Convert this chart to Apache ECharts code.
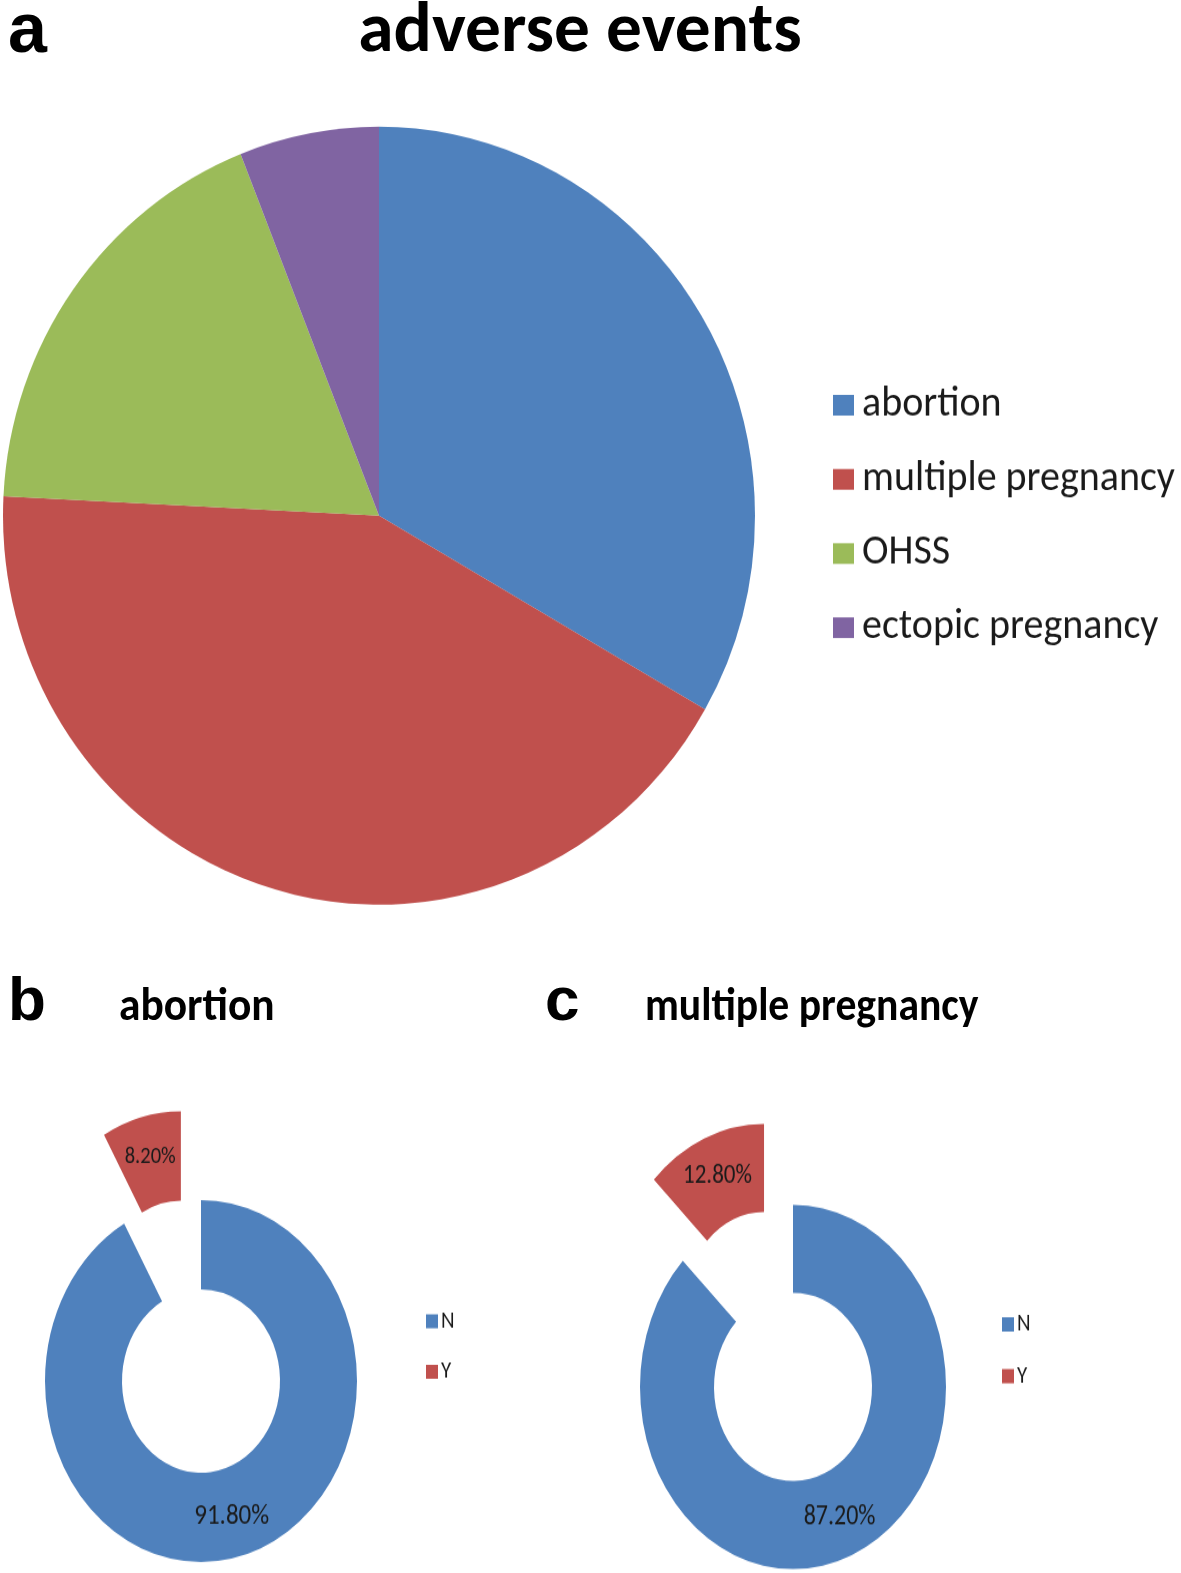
<!DOCTYPE html>
<html>
<head>
<meta charset="utf-8">
<script src="https://cdn.jsdelivr.net/npm/echarts@6/dist/echarts.min.js"></script>
<style>
html,body{margin:0;padding:0;background:#fff;}
#page{position:relative;width:1181px;height:1573px;overflow:hidden;background:#fff;}
.box{position:absolute;}
</style>
</head>
<body>
<div id="page">
  <div id="titles" class="box" style="left:0;top:0;width:1181px;height:1573px;"></div>
  <div id="main" class="box" style="left:0;top:100px;width:1181px;height:840px;transform:scaleY(1.0345);transform-origin:0 0;"></div>
  <div id="donutB" class="box" style="left:0;top:1040px;width:570px;height:460px;transform:scaleY(1.16);transform-origin:0 0;"></div>
  <div id="donutC" class="box" style="left:580px;top:1040px;width:601px;height:460px;transform:scaleY(1.19);transform-origin:0 0;"></div>
</div>
<script>
// ---- data ----
var eventCategories = ['abortion', 'multiple pregnancy', 'OHSS', 'ectopic pregnancy'];
var eventValues = [33.3, 42.5, 18.2, 6.0];
var ynCategories = ['N', 'Y'];
var abortionValues = [91.8, 8.2];
var multipleValues = [87.2, 12.8];
var panelTitles = ['adverse events', 'abortion', 'multiple pregnancy'];
var panelLetters = ['a', 'b', 'c'];

var colors = ['#4F81BD', '#C0504D', '#9BBB59', '#8064A2'];
var calibri = 'Carlito, Lato, sans-serif';
var arialB = '"Liberation Sans", Arial, sans-serif';

// ---- titles ----
var titles = echarts.init(document.getElementById('titles'), null, {renderer: 'canvas', width: 1181, height: 1573});
titles.setOption({
  animation: false,
  graphic: [
    {type: 'text', x: 8, y: 33, style: {text: panelLetters[0], font: 'bold 70px ' + arialB, fill: '#000', verticalAlign: 'middle'}},
    {type: 'text', x: 580, y: 33, scaleX: 1.02, style: {text: panelTitles[0], font: 'bold 70px ' + calibri, fill: '#000', align: 'center', verticalAlign: 'middle'}},
    {type: 'text', x: 8, y: 1003, style: {text: panelLetters[1], font: 'bold 62px ' + arialB, fill: '#000', verticalAlign: 'middle'}},
    {type: 'text', x: 119, y: 1008, scaleX: 0.944, style: {text: panelTitles[1], font: 'bold 46px ' + calibri, fill: '#000', verticalAlign: 'middle'}},
    {type: 'text', x: 545, y: 1003, style: {text: panelLetters[2], font: 'bold 62px ' + arialB, fill: '#000', verticalAlign: 'middle'}},
    {type: 'text', x: 645, y: 1008, scaleX: 0.905, style: {text: panelTitles[2], font: 'bold 46px ' + calibri, fill: '#000', verticalAlign: 'middle'}}
  ]
});

// ---- main pie (a) ----
var main = echarts.init(document.getElementById('main'), null, {renderer: 'canvas', width: 1181, height: 840});
main.setOption({
  animation: false,
  color: colors,
  legend: {
    orient: 'vertical',
    left: 833,
    top: 275,
    padding: 0,
    icon: 'rect',
    itemWidth: 21,
    itemHeight: 20,
    itemGap: 31.7,
    selectedMode: false,
    textStyle: {fontFamily: calibri, fontSize: 40, color: '#1a1a1a', lineHeight: 40, padding: [0, 0, 0, 3]},
    data: eventCategories
  },
  series: [{
    type: 'pie',
    center: [379, 401.8],
    radius: 376,
    startAngle: 90,
    clockwise: true,
    label: {show: false},
    labelLine: {show: false},
    emphasis: {disabled: true},
    itemStyle: {borderWidth: 0},
    data: eventCategories.map(function (n, i) { return {name: n, value: eventValues[i]}; })
  }]
});

// ---- donuts (b, c) ----
function donut(id, w, values, center, outerR, offset, legendLeft, legendTop, labelSizes) {
  var c = echarts.init(document.getElementById(id), null, {renderer: 'canvas', width: w, height: 460});
  c.setOption({
    animation: false,
    color: colors,
    legend: {
      orient: 'vertical',
      left: legendLeft,
      top: legendTop,
      padding: 0,
      icon: 'rect',
      itemWidth: 12,
      itemHeight: 12,
      itemGap: 21.5,
      selectedMode: false,
      textStyle: {fontFamily: calibri, fontSize: 21, color: '#1a1a1a', lineHeight: 22, padding: [0, 0, 0, -2]},
      data: ynCategories
    },
    series: [{
      type: 'pie',
      center: center,
      radius: [79, outerR],
      startAngle: 90,
      clockwise: true,
      selectedMode: 'single',
      selectedOffset: offset,
      emphasis: {disabled: true},
      labelLine: {show: false},
      label: {
        show: true,
        position: 'inside',
        fontFamily: calibri,
        color: '#1a1a1a',
        formatter: function (p) { return p.value.toFixed(2) + '%'; }
      },
      data: ynCategories.map(function (n, i) {
        return {name: n, value: values[i], selected: i === 1, label: {fontSize: labelSizes[i]}};
      })
    }]
  });
}
donut('donutB', 570, abortionValues, [201, 294], 156, 79, 426, 231.5, [25, 20.5]);
donut('donutC', 601, multipleValues, [213, 291.6], 153, 74, 422, 228, [24, 23]);
</script>
</body>
</html>
